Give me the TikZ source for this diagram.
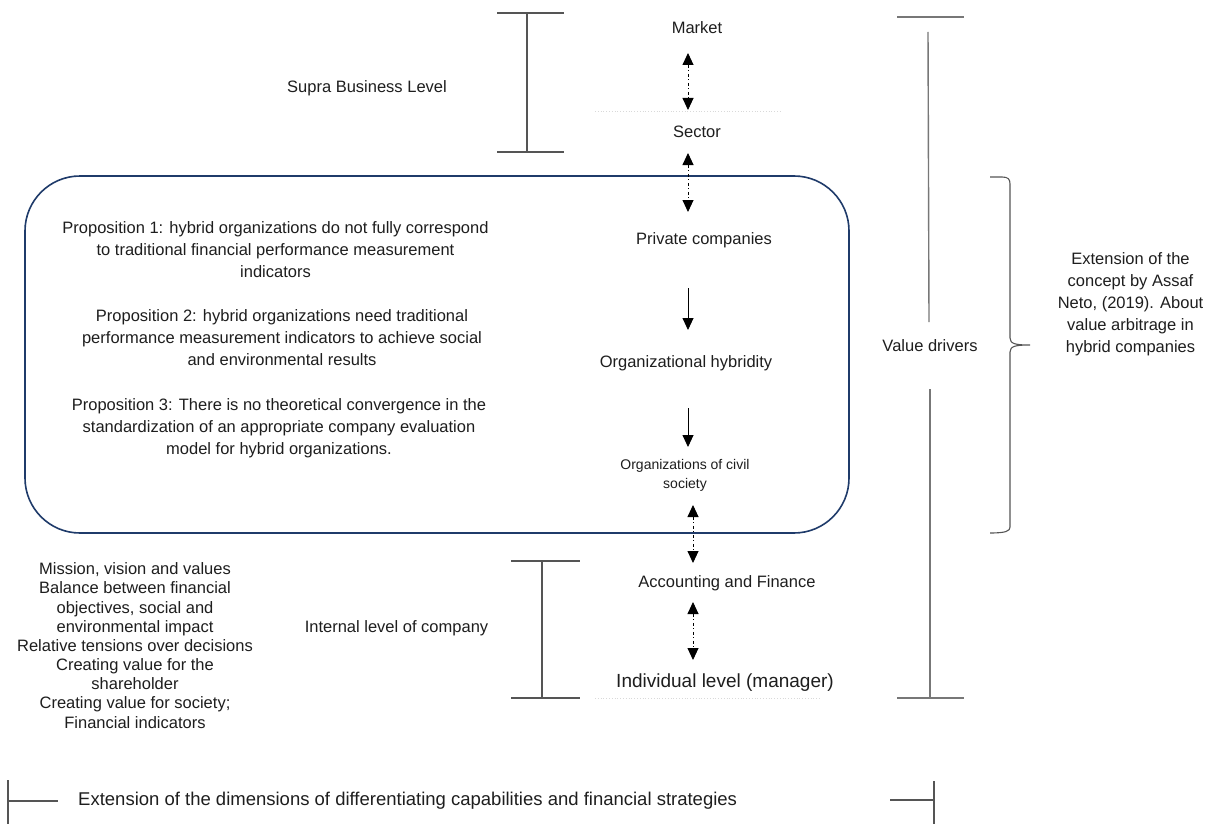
\documentclass[tikz,border=0pt]{standalone}
\usepackage{fontspec}
\setmainfont{Liberation Sans}
\usetikzlibrary{arrows.meta}
\definecolor{txt}{HTML}{1E1E1E}
\definecolor{boxblue}{HTML}{1F3B6A}
\definecolor{bar}{HTML}{555555}
\definecolor{vd}{HTML}{777777}
\tikzset{
  lbl/.style={inner sep=0pt, text=txt, align=center, font=\fontsize{16.5}{22}\selectfont},
  ddarrow/.style={draw=black, line width=0.9pt, dash pattern=on 3pt off 2.5pt on 1pt off 2.5pt,
     {Triangle[width=11pt,length=12pt]}-{Triangle[width=11pt,length=12pt]}},
  sarrow/.style={draw=black, line width=0.9pt, -{Triangle[width=11pt,length=12pt]}},
  barline/.style={draw=bar, line width=1.1pt},
  vdline/.style={draw=vd, line width=1.4pt},
  faint/.style={draw=gray!30, line width=0.8pt, dotted}
}
\begin{document}
\begin{tikzpicture}[x=1pt,y=-1pt]
\useasboundingbox (0,0) rectangle (1209,824);
\fill[white] (0,0) rectangle (1209,824);

% rounded box
\node[draw=boxblue, line width=1.6pt, rounded corners=55pt, minimum width=824pt, minimum height=357pt, inner sep=0pt] (box) at (437,354.5) {};

% central column
\node[lbl] (market) at (697,28) {Market};
\node[lbl] (sector) at (697,132) {Sector};
\node[lbl] (priv) at (704,240) {Private companies};
\node[lbl] (hyb) at (686,363) {Organizational hybridity};
\node[lbl, font=\fontsize{14}{19}\selectfont] (civil) at (685,475.5) {Organizations of civil\\society};
\node[lbl] (acc) at (727,583) {Accounting and Finance};
\node[lbl, font=\fontsize{19}{23}\selectfont] (indiv) at (725,683) {Individual level (manager)};

\draw[ddarrow] ([shift={(-9,25)}]market.center) -- ([shift={(-9,-22)}]sector.center);
\draw[ddarrow] ([shift={(-9,21)}]sector.center) -- ([shift={(-16,-28)}]priv.center);
\draw[sarrow] ([shift={(-16,48)}]priv.center) -- ([shift={(2,-33)}]hyb.center);
\draw[sarrow] ([shift={(2,45)}]hyb.center) -- ([shift={(3,-28.5)}]civil.center);
\draw[ddarrow] ([shift={(8,29.5)}]civil.center) -- ([shift={(-34,-20)}]acc.center);
\draw[ddarrow] ([shift={(-34,19)}]acc.center) -- ([shift={(-32,-23)}]indiv.center);

\draw[faint] (595,111) -- (780,111);
\draw[faint] (595,698) -- (820,698);

% propositions
\node[lbl] (p1) at (275.5,250) {Proposition 1: hybrid organizations do not fully correspond\\to traditional financial performance measurement\\indicators};
\node[lbl] (p2) at (282,338) {Proposition 2: hybrid organizations need traditional\\performance measurement indicators to achieve social\\and environmental results};
\node[lbl] (p3) at (279,428) {Proposition 3: There is no theoretical convergence in the\\standardization of an appropriate company evaluation\\model for hybrid organizations.};

% supra business level bar
\draw[barline] (497,13) -- (564,13);
\draw[barline] (527,13) -- (527,152);
\draw[barline] (497,152) -- (564,152);
\node[lbl] (supra) at (367,88) {Supra Business Level};

% internal level bar
\draw[barline] (511,561) -- (580,561);
\draw[barline] (542,561) -- (542,698);
\draw[barline] (511,698) -- (580,698);
\node[lbl] (internal) at (396.5,628) {Internal level of company};

% left list
\node[lbl, font=\fontsize{16.5}{19.15}\selectfont] (list) at (135,645.5) {Mission, vision and values\\Balance between financial\\objectives, social and\\environmental impact\\Relative tensions over decisions\\Creating value for the\\shareholder\\Creating value for society;\\Financial indicators};

% value drivers
\draw[vdline] (897,17) -- (964,17);
\draw[vdline] (928,32) -- (929,322);
\node[lbl] (vdrv) at (930,346) {Value drivers};
\draw[vdline] (930,389) -- (930,698);
\draw[vdline] (897,698) -- (964,698);

% brace
\draw[draw=bar, line width=1.1pt] (990,177) -- (1002,177) .. controls (1008,177) and (1010,179) .. (1010,184)
  -- (1010,338) .. controls (1010,344) and (1016,345) .. (1030,345)
  .. controls (1016,345) and (1010,346) .. (1010,352)
  -- (1010,527) .. controls (1010,531) and (1006,533) .. (990,533);
\node[lbl] (ext) at (1130.5,304.5) {Extension of the\\concept by Assaf\\Neto, (2019). About\\value arbitrage in\\hybrid companies};

% bottom
\draw[barline] (8,780) -- (8,824);
\draw[barline] (8,801) -- (58,801);
\node[lbl, anchor=west, font=\fontsize{18.5}{22}\selectfont] (bottom) at (78,801) {Extension of the dimensions of differentiating capabilities and financial strategies};
\draw[barline] (890,800) -- (934,800);
\draw[barline] (934,781) -- (934,824);
\end{tikzpicture}
\end{document}
